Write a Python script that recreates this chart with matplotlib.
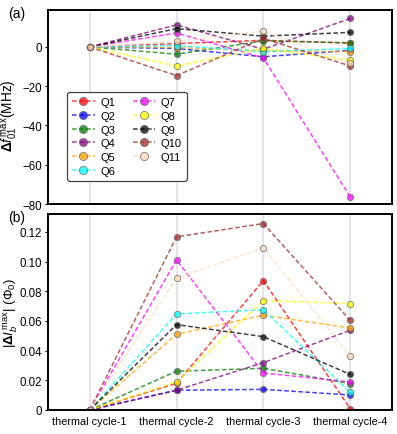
import matplotlib
matplotlib.use("Agg")
import matplotlib.pyplot as plt

plt.rcParams["font.family"] = ["Liberation Sans", "DejaVu Sans"]
plt.rcParams["mathtext.fontset"] = "custom"
plt.rcParams["mathtext.rm"] = "Liberation Sans"
plt.rcParams["mathtext.it"] = "Liberation Sans:italic"
plt.rcParams["mathtext.bf"] = "Liberation Sans:bold"

cycles = ["thermal cycle-1", "thermal cycle-2", "thermal cycle-3", "thermal cycle-4"]
qubits = ["Q1", "Q2", "Q3", "Q4", "Q5", "Q6", "Q7", "Q8", "Q9", "Q10", "Q11"]
colors = ["red", "blue", "green", "purple", "orange", "cyan", "magenta",
          "yellow", "black", "brown", "peachpuff"]

# frequency shift (MHz), panel (a)
df01 = [
    [0, 1.7, 3.4, 1.9],
    [0, -0.8, -5.0, -1.8],
    [0, -3.7, 3.1, 2.1],
    [0, 11.2, -1.2, 14.5],
    [0, -0.3, -2.0, -2.4],
    [0, 0.7, -2.4, -0.8],
    [0, 7.1, -5.6, -76.4],
    [0, -9.7, -0.8, -6.8],
    [0, 9.3, 5.5, 7.4],
    [0, -14.6, 4.3, -9.7],
    [0, 2.8, 8.0, -8.2],
]

# bias shift (Phi0), panel (b)
dIb = [
    [0, 0.0180, 0.0872, 0.0009],
    [0, 0.0133, 0.0139, 0.0101],
    [0, 0.0261, 0.0281, 0.0178],
    [0, 0.0133, 0.0319, 0.0537],
    [0, 0.0510, 0.0638, 0.0553],
    [0, 0.0647, 0.0676, 0.0119],
    [0, 0.1011, 0.0249, 0.0189],
    [0, 0.0189, 0.0737, 0.0717],
    [0, 0.0575, 0.0494, 0.0240],
    [0, 0.1166, 0.1256, 0.0604],
    [0, 0.0888, 0.1094, 0.0362],
]

x = list(range(len(cycles)))

fig = plt.figure(figsize=(3.97, 4.35), dpi=100)
ax1 = fig.add_axes([0.121, 0.5287, 0.866, 0.446])
ax2 = fig.add_axes([0.121, 0.0552, 0.866, 0.4505])

line_kw = dict(linestyle=(0, (3, 1.6)), linewidth=1.1, alpha=0.75, marker="o",
               markersize=4.5, markeredgecolor="dimgray", markeredgewidth=0.7)

for ax, data in [(ax1, df01), (ax2, dIb)]:
    for xi in x:
        ax.axvline(xi, color="#e3e3e3", linewidth=1.3, zorder=0)
    for name, col, vals in zip(qubits, colors, data):
        ax.plot(x, vals, color=col, label=name, **line_kw)
    ax.set_xlim(-0.48, 3.48)
    ax.set_xticks(x)
    ax.tick_params(axis="x", length=0, labelsize=7.8, pad=4)
    ax.tick_params(axis="y", length=2.5, width=0.8, labelsize=8.3, pad=2)
    for s in ax.spines.values():
        s.set_linewidth(1.4)

ax1.set_xticklabels([])
ax1.set_ylim(-80, 18.8)
ax1.set_yticks([0, -20, -40, -60, -80])
ax1.set_ylabel(r"$\mathbf{\Delta}\mathit{f}_{01}^{\,\mathrm{max}}$(MHz)", fontsize=9.8)
ax1.yaxis.set_label_coords(-0.082, 0.46)

ax2.set_xticklabels(cycles)
ax2.set_ylim(0, 0.132)
ax2.set_yticks([0, 0.02, 0.04, 0.06, 0.08, 0.10, 0.12])
ax2.set_yticklabels(["0", "0.02", "0.04", "0.06", "0.08", "0.10", "0.12"])
ax2.set_ylabel(r"$|\mathbf{\Delta}\mathit{I}_{b}^{\,\mathrm{max}}|$ ($\Phi_0$)", fontsize=9.5)
ax2.yaxis.set_label_coords(-0.082, 0.5)

leg = ax1.legend(ncol=2, loc="upper left", bbox_to_anchor=(0.04, 0.605), fontsize=8,
                 frameon=True, fancybox=True, edgecolor="#444444", framealpha=1,
                 handlelength=2.0, markerscale=1.3, labelspacing=0.33,
                 columnspacing=1.6, handletextpad=0.5, borderpad=0.45)
leg.get_frame().set_linewidth(0.9)

fig.text(0.02, 0.985, "(a)", fontsize=10, va="top")
fig.text(0.02, 0.515, "(b)", fontsize=10, va="top")

fig.savefig("out.png", dpi=100)
